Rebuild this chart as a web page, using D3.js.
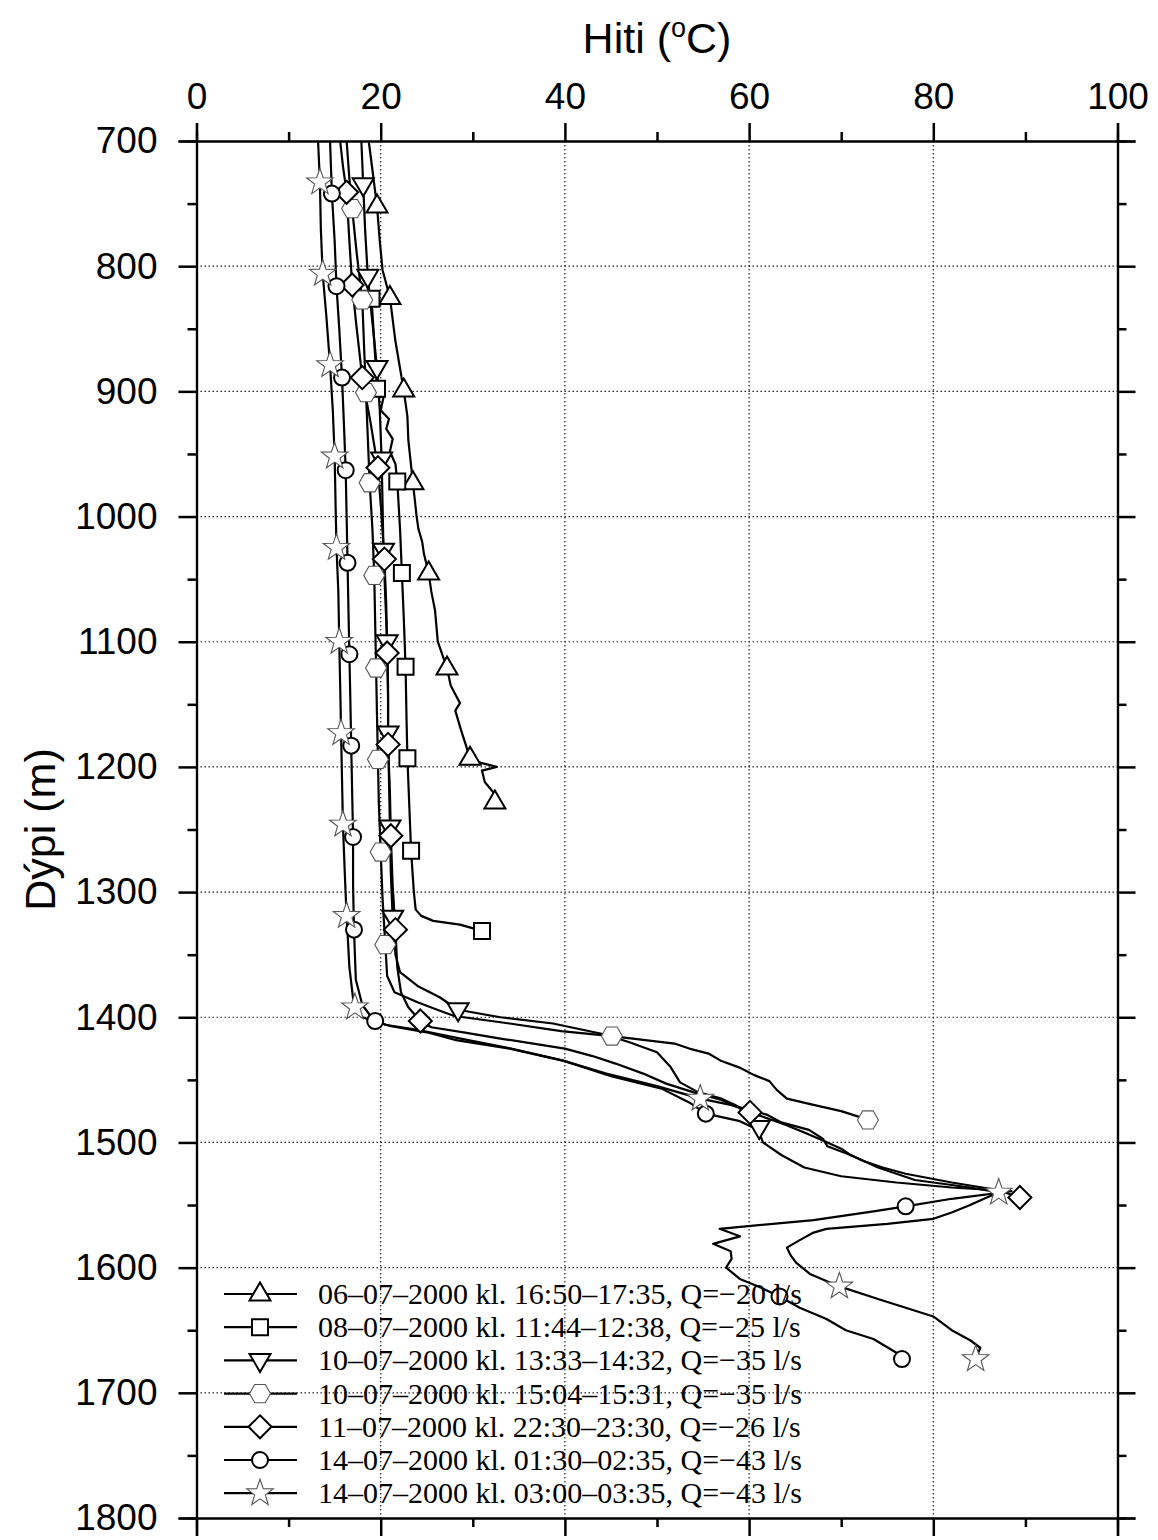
<!DOCTYPE html>
<html><head><meta charset="utf-8">
<script src="https://cdn.jsdelivr.net/npm/d3@7"></script>
<style>body{margin:0;background:#fff}</style>
</head><body>
<svg id="c" width="1158" height="1540"></svg>
<script>
// ---- data: [depth (m), temperature (°C)] ----
const xMajor = [0,20,40,60,80,100];
const xMinor = [10,30,50,70,90];
const yMajor = [700,800,900,1000,1100,1200,1300,1400,1500,1600,1700,1800];
const yMinor = [750,850,950,1050,1150,1250,1350,1450,1550,1650,1750];
const labels = [
  "06\u201307\u20132000 kl. 16:50\u201317:35, Q=\u221220 l/s",
  "08\u201307\u20132000 kl. 11:44\u201312:38, Q=\u221225 l/s",
  "10\u201307\u20132000 kl. 13:33\u201314:32, Q=\u221235 l/s",
  "10\u201307\u20132000 kl. 15:04\u201315:31, Q=\u221235 l/s",
  "11\u201307\u20132000 kl. 22:30\u201323:30, Q=\u221226 l/s",
  "14\u201307\u20132000 kl. 01:30\u201302:35, Q=\u221243 l/s",
  "14\u201307\u20132000 kl. 03:00\u201303:35, Q=\u221243 l/s"
];
const symbols = ["triUp","square","triDown","hexagon","diamond","circle","star"];

const s1 = [[700,18.7],[752,19.6],[780,19.9],[803,20.2],[825,21.0],[860,21.6],[899,22.5],[920,22.9],[939,23.0],[973,23.5],[1000,23.9],[1010,24.1],[1020,24.5],[1030,24.7],[1045,25.2],[1060,25.5],[1075,25.9],[1100,26.2],[1121,27.2],[1135,27.6],[1149,28.6],[1155,28.1],[1170,28.7],[1193,29.7],[1197,31.0],[1200,32.6],[1203,31.0],[1212,31.3],[1220,32.2],[1228,32.4]];
const s1Marks = [752,825,899,973,1045,1121,1193,1228];

const s2 = [[812,18.3],[826,19.0],[860,19.3],[898,19.6],[905,20.3],[915,20.0],[922,20.9],[930,20.6],[938,21.3],[948,21.0],[958,21.6],[972,21.8],[1010,22.1],[1045,22.3],[1080,22.5],[1120,22.7],[1160,22.8],[1193,22.9],[1230,23.1],[1267,23.3],[1300,23.6],[1314,23.8],[1319,24.4],[1323,25.7],[1326,28.6],[1331,31.0]];
const s2Marks = [826,898,972,1045,1120,1193,1267,1331];

const s3 = [[700,17.9],[735,18.1],[770,18.3],[808,18.6],[845,19.1],[881,19.6],[915,19.9],[954,20.1],[990,20.2],[1027,20.3],[1065,20.5],[1100,20.7],[1135,20.8],[1173,20.8],[1210,20.9],[1248,21.0],[1285,21.1],[1320,21.3],[1350,21.6],[1364,22.1],[1375,24.0],[1384,26.4],[1390,27.6],[1394,28.4],[1400,33.0],[1405,38.7],[1414,44.5],[1420,47.0],[1428,50.0],[1440,51.5],[1452,52.5],[1460,54.5],[1465,57.0],[1470,58.5],[1478,60.0],[1488,61.1]];
const s3Marks = [735,808,881,954,1027,1100,1173,1248,1320,1394,1488];

const s4 = [[700,16.3],[730,16.6],[754,16.9],[790,17.4],[827,18.0],[865,18.2],[901,18.4],[937,18.6],[973,18.8],[1010,19.1],[1047,19.3],[1085,19.4],[1121,19.5],[1160,19.6],[1194,19.7],[1230,19.8],[1268,20.0],[1305,20.2],[1342,20.5],[1367,20.7],[1380,21.5],[1388,24.0],[1395,26.5],[1399,28.0],[1405,34.0],[1411,39.6],[1415,45.1],[1421,51.9],[1425,53.5],[1429,55.6],[1435,57.0],[1440,58.9],[1446,60.5],[1451,62.2],[1458,63.0],[1465,64.1],[1470,67.0],[1475,70.0],[1479,71.7],[1482,72.9]];
const s4Marks = [754,827,901,973,1047,1121,1194,1268,1342,1415,1482];

const s5 = [[700,15.6],[720,15.9],[741,16.3],[780,16.6],[815,16.9],[850,17.4],[889,18.0],[925,18.9],[961,19.7],[1000,20.1],[1034,20.4],[1070,20.6],[1109,20.7],[1145,20.8],[1182,20.8],[1220,21.0],[1255,21.1],[1295,21.3],[1330,21.6],[1360,21.8],[1380,22.2],[1392,23.0],[1403,24.3],[1408,25.5],[1412,29.0],[1417,33.0],[1425,40.0],[1431,43.0],[1437,45.5],[1445,48.5],[1453,51.0],[1460,54.0],[1466,57.0],[1471,58.5],[1476,60.1],[1482,62.5],[1486,64.0],[1492,66.0],[1500,68.5],[1505,70.0],[1510,71.0],[1515,72.5],[1520,74.5],[1525,77.0],[1532,82.0],[1538,87.0],[1544,89.4]];
const s5Marks = [741,815,889,961,1034,1109,1182,1255,1330,1403,1476,1544];

const s6 = [[700,14.5],[742,14.7],[780,15.0],[816,15.2],[850,15.5],[889,15.8],[925,16.0],[963,16.2],[1000,16.3],[1037,16.4],[1075,16.5],[1110,16.6],[1145,16.7],[1183,16.8],[1220,16.9],[1256,17.0],[1295,17.0],[1330,17.1],[1370,17.3],[1390,18.0],[1400,19.0],[1403,19.4],[1407,21.0],[1412,25.0],[1418,28.0],[1425,34.0],[1435,40.0],[1447,45.0],[1457,50.5],[1468,53.5],[1477,55.3],[1483,59.0],[1490,61.0],[1500,61.5],[1510,63.5],[1520,66.0],[1527,70.0],[1532,76.0],[1536,82.0],[1539,88.5],[1545,82.0],[1551,77.0],[1555,73.5],[1562,67.0],[1569,56.8],[1575,59.0],[1581,56.1],[1587,58.0],[1593,58.1],[1600,57.5],[1609,59.0],[1615,61.0],[1623,63.3],[1632,65.5],[1641,68.4],[1650,70.5],[1657,73.5],[1668,76.0],[1673,76.6]];
const s6Marks = [742,816,889,963,1037,1110,1183,1256,1330,1403,1477,1551,1623,1673];

const s7 = [[700,13.2],[733,13.4],[770,13.5],[806,13.7],[840,14.1],[879,14.5],[915,14.8],[952,15.0],[990,15.1],[1025,15.2],[1060,15.4],[1100,15.5],[1135,15.6],[1173,15.7],[1210,15.8],[1246,15.9],[1285,16.1],[1319,16.3],[1360,16.6],[1385,17.0],[1392,17.2],[1400,18.0],[1406,20.5],[1410,24.0],[1416,28.0],[1424,33.5],[1434,39.5],[1445,44.5],[1455,50.0],[1465,54.7],[1470,58.0],[1478,62.0],[1484,63.5],[1490,66.5],[1497,68.0],[1503,68.5],[1510,71.0],[1520,74.0],[1530,78.0],[1536,84.0],[1540,87.1],[1545,85.5],[1550,84.0],[1556,82.0],[1561,80.0],[1565,75.0],[1569,68.4],[1572,67.0],[1578,65.5],[1584,64.1],[1590,64.5],[1596,65.1],[1605,66.6],[1615,69.8],[1625,74.0],[1632,77.0],[1639,80.0],[1650,82.0],[1658,84.0],[1664,85.1],[1673,84.6]];
const s7Marks = [733,806,879,952,1025,1100,1173,1246,1319,1392,1465,1540,1615,1673];

const seriesLines = [s1,s2,s3,s4,s5,s6,s7];
const seriesMarks = [s1Marks,s2Marks,s3Marks,s4Marks,s5Marks,s6Marks,s7Marks];

// ---- layout ----
const svg = d3.select("#c");
const L = 196.5, R = 1117.5, T = 141, B = 1518;
const x = d3.scaleLinear().domain([0,100]).range([L,R]);
const y = d3.scaleLinear().domain([700,1800]).range([T,B]);
const sansFont = "'Liberation Sans', Arial, Helvetica, sans-serif";
const serifFont = "'Liberation Serif', 'Times New Roman', serif";

// grid
const grid = svg.append("g").attr("stroke","#222").attr("stroke-width",1.2).attr("stroke-dasharray","1.5,2.5");
grid.selectAll("line.gx").data(xMajor.slice(1,-1)).join("line")
  .attr("x1",d=>x(d)).attr("x2",d=>x(d)).attr("y1",T).attr("y2",B);
grid.selectAll("line.gy").data(yMajor.slice(1,-1)).join("line")
  .attr("x1",L).attr("x2",R).attr("y1",d=>y(d)).attr("y2",d=>y(d));

// symbols
function symPath(type){
  const p = d3.path();
  if(type==="triUp"){ p.moveTo(0,-11.5); p.lineTo(10.5,6.5); p.lineTo(-10.5,6.5); p.closePath(); }
  else if(type==="triDown"){ p.moveTo(0,11.5); p.lineTo(10.5,-6.5); p.lineTo(-10.5,-6.5); p.closePath(); }
  else if(type==="square"){ p.rect(-8,-8,16,16); }
  else if(type==="diamond"){ p.moveTo(0,-11.5); p.lineTo(11.5,0); p.lineTo(0,11.5); p.lineTo(-11.5,0); p.closePath(); }
  else if(type==="circle"){ p.arc(0,0,8,0,2*Math.PI); p.closePath(); }
  else if(type==="hexagon"){ for(let i=0;i<6;i++){const a=i*Math.PI/3; const px=10.5*Math.cos(a), py=10.5*Math.sin(a); i?p.lineTo(px,py):p.moveTo(px,py);} p.closePath(); }
  else if(type==="star"){ for(let i=0;i<10;i++){const a=-Math.PI/2+i*Math.PI/5; const r=i%2?5.6:14; const px=r*Math.cos(a), py=r*Math.sin(a); i?p.lineTo(px,py):p.moveTo(px,py);} p.closePath(); }
  return p.toString();
}
function symStyle(sel,type){
  const thin = (type==="hexagon"||type==="star");
  sel.attr("fill","#fff").attr("stroke", thin?"#555":"#000").attr("stroke-width", thin?1.1:2).attr("stroke-linejoin","miter");
}

const line = d3.line().x(d=>x(d[1])).y(d=>y(d[0]));
const plot = svg.append("g");
seriesLines.forEach((data,i)=>{
  plot.append("path").datum(data).attr("d",line).attr("fill","none")
    .attr("stroke","#000").attr("stroke-width",2.2).attr("stroke-linejoin","round");
});
seriesLines.forEach((data,i)=>{
  const pts = seriesMarks[i].map(dep=>data.find(p=>p[0]===dep)).filter(Boolean);
  plot.selectAll(null).data(pts).join("path")
    .attr("transform",d=>`translate(${x(d[1])},${y(d[0])})`)
    .attr("d",symPath(symbols[i])).call(symStyle,symbols[i]);
});

// legend
const lg = svg.append("g");
labels.forEach((lab,i)=>{
  const yy = 1294 + i*33.2;
  lg.append("line").attr("x1",224).attr("x2",297).attr("y1",yy).attr("y2",yy).attr("stroke","#000").attr("stroke-width",2.2);
  lg.append("path").attr("transform",`translate(260,${yy})`).attr("d",symPath(symbols[i])).call(symStyle,symbols[i]);
  lg.append("text").attr("x",318).attr("y",yy+10).attr("font-family",serifFont).attr("font-size",30).attr("fill","#000").text(lab);
});

// axes
function styleAxis(g){ g.selectAll(".domain").attr("stroke","#000").attr("stroke-width",2.2);
  g.selectAll(".tick line").attr("stroke","#000").attr("stroke-width",2.5);
  g.selectAll("text").attr("font-family",sansFont).attr("font-size",37).attr("fill","#000"); }
svg.append("g").attr("transform",`translate(${L},0)`).call(d3.axisLeft(y).tickValues(yMajor).tickSize(18).tickPadding(21).tickFormat(d3.format("d"))).call(styleAxis);
svg.append("g").attr("transform",`translate(${L},0)`).call(d3.axisLeft(y).tickValues(yMinor).tickSize(9).tickFormat("")).call(styleAxis);
svg.append("g").attr("transform",`translate(${R},0)`).call(d3.axisRight(y).tickValues(yMajor).tickSize(18).tickFormat("")).call(styleAxis);
svg.append("g").attr("transform",`translate(${R},0)`).call(d3.axisRight(y).tickValues(yMinor).tickSize(9).tickFormat("")).call(styleAxis);
svg.append("g").attr("transform",`translate(0,${T})`).call(d3.axisTop(x).tickValues(xMajor).tickSize(18).tickPadding(14).tickFormat(d3.format("d"))).call(styleAxis);
svg.append("g").attr("transform",`translate(0,${T})`).call(d3.axisTop(x).tickValues(xMinor).tickSize(9).tickFormat("")).call(styleAxis);
svg.append("g").attr("transform",`translate(0,${B})`).call(d3.axisBottom(x).tickValues(xMajor).tickSize(18).tickFormat("")).call(styleAxis);
svg.append("g").attr("transform",`translate(0,${B})`).call(d3.axisBottom(x).tickValues(xMinor).tickSize(9).tickFormat("")).call(styleAxis);
svg.selectAll(".domain").attr("d",function(){return d3.select(this).attr("d").replace(/[HV]?[^MHV]*$/,m=>m);});

// titles
const title = svg.append("text").attr("x",(L+R)/2).attr("y",53).attr("text-anchor","middle")
  .attr("font-family",sansFont).attr("font-size",43).attr("fill","#000");
title.append("tspan").text("Hiti (");
title.append("tspan").attr("font-size",27).attr("dy",-16).text("o");
title.append("tspan").attr("dy",16).text("C)");
svg.append("text").attr("transform",`translate(55,${(T+B)/2}) rotate(-90)`).attr("text-anchor","middle")
  .attr("font-family",sansFont).attr("font-size",43).attr("fill","#000").text("Dýpi (m)");
</script>
</body></html>
